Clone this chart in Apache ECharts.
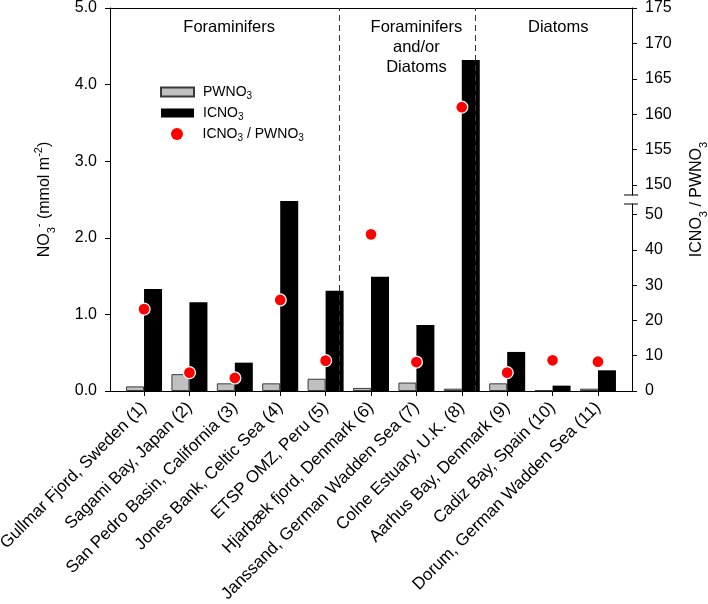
<!DOCTYPE html>
<html><head><meta charset="utf-8">
<script src="https://cdn.jsdelivr.net/npm/echarts@6/dist/echarts.min.js"></script>
<style>html,body{margin:0;padding:0;background:#fff}#c{width:708px;height:604px}</style>
</head><body><div id="c"></div>
<script>
// ---- data ----
const sites = ['Gullmar Fjord, Sweden (1)', 'Sagami Bay, Japan (2)', 'San Pedro Basin, California (3)',
  'Jones Bank, Celtic Sea (4)', 'ETSP OMZ, Peru (5)', 'Hjarbæk fjord, Denmark (6)',
  'Janssand, German Wadden Sea (7)', 'Colne Estuary, U.K. (8)', 'Aarhus Bay, Denmark (9)',
  'Cadiz Bay, Spain (10)', 'Dorum, German Wadden Sea (11)'];
const pwno3 = [0.06, 0.22, 0.10, 0.10, 0.16, 0.04, 0.11, 0.03, 0.10, 0.01, 0.03];
const icno3 = [1.33, 1.16, 0.37, 2.48, 1.31, 1.49, 0.86, 4.32, 0.51, 0.07, 0.27];
const ratio = [23.2, 5.2, 3.7, 25.8, 8.6, 44.4, 8.2, 161.0, 5.2, 8.7, 8.3];
const leftTicks = [0, 1, 2, 3, 4, 5];
const lowerTicks = [0, 10, 20, 30, 40, 50];
const upperTicks = [150, 155, 160, 165, 170, 175];
const groupNames = ['Foraminifers', 'Foraminifers\nand/or\nDiatoms', 'Diatoms'];
const groupBounds = [[0.25, 5.5], [5.5, 8.5], [8.5, 11.75]];
const dividers = [5.5, 8.5];

// ---- chart ----
const FONT = 'Liberation Sans, Arial, sans-serif';
const X_MIN = 0.25, X_MAX = 11.75;
const LOW_MAX = 53, UP_MIN = 148.6, UP_MAX = 175;
const G_LEFT = 110, G_RIGHT = 76, G_TOP = 8, G_H = 383, LOW_TOP = 204, UP_H = 187;
const catIdx = sites.map((s, i) => i + 1);
const chart = echarts.init(document.getElementById('c'), null, {renderer: 'canvas'});

const axisLine = {show: true, lineStyle: {color: '#000', width: 1}};
const axisTick = {show: true, inside: false, length: 5, lineStyle: {color: '#000', width: 1}};
const nameRich = {
  sub: {fontSize: 11, lineHeight: 24, verticalAlign: 'bottom', fontFamily: FONT, color: '#000'},
  sup: {fontSize: 11, lineHeight: 24, verticalAlign: 'top', fontFamily: FONT, color: '#000'}
};
const legRich = {s: {fontSize: 10, lineHeight: 18, verticalAlign: 'bottom', fontFamily: FONT, color: '#000'}};
const legNames = {PWNO3: 'PWNO{s|3}', ICNO3: 'ICNO{s|3}', ratio: 'ICNO{s|3} / PWNO{s|3}'};

const gridPos = {left: G_LEFT, right: G_RIGHT, containLabel: false, outerBoundsMode: 'none'};
const option = {
  animation: false,
  backgroundColor: '#fff',
  textStyle: {fontFamily: FONT},
  grid: [
    Object.assign({top: G_TOP, height: G_H}, gridPos),
    Object.assign({top: LOW_TOP, height: G_TOP + G_H - LOW_TOP}, gridPos),
    Object.assign({top: G_TOP, height: UP_H}, gridPos)
  ],
  legend: [
    {data: [{name: 'PWNO3', icon: 'rect'}, {name: 'ICNO3', icon: 'rect'}], orient: 'vertical', left: 160, top: 83,
     padding: 0, itemWidth: 33, itemHeight: 9, itemGap: 3, selectedMode: false,
     formatter: n => legNames[n],
     textStyle: {fontSize: 14, color: '#000', lineHeight: 18, fontFamily: FONT, padding: [0, 0, 0, 4], rich: legRich}},
    {data: [{name: 'ratio', icon: 'circle', itemStyle: {borderWidth: 0}}], orient: 'vertical', left: 171, top: 125,
     padding: 0, itemWidth: 33, itemHeight: 12, selectedMode: false,
     formatter: n => legNames[n],
     textStyle: {fontSize: 14, color: '#000', lineHeight: 18, fontFamily: FONT, padding: [0, 0, 0, 4], rich: legRich}}
  ],
  xAxis: [
    {type: 'value', gridIndex: 0, min: X_MIN, max: X_MAX, splitLine: {show: false},
     axisLine: axisLine, axisTick: Object.assign({customValues: catIdx}, axisTick),
     axisLabel: {customValues: catIdx, rotate: 45, margin: 14, fontSize: 17, color: '#000', fontFamily: FONT,
       formatter: v => sites[Math.round(v) - 1] || ''}},
    {type: 'value', gridIndex: 1, min: X_MIN, max: X_MAX, show: false},
    {type: 'value', gridIndex: 2, min: X_MIN, max: X_MAX, position: 'top', splitLine: {show: false},
     axisLine: axisLine, axisTick: {show: false}, axisLabel: {show: false}}
  ],
  yAxis: [
    {type: 'value', gridIndex: 0, position: 'left', min: 0, max: 5, interval: 1, splitLine: {show: false},
     axisLine: axisLine, axisTick: Object.assign({customValues: leftTicks}, axisTick),
     axisLabel: {customValues: leftTicks, margin: 13, fontSize: 16, color: '#000', fontFamily: FONT,
       formatter: v => v.toFixed(1)},
     name: 'NO{sub|3}{sup|-} (mmol m{sup|-2})', nameLocation: 'middle', nameGap: 53, nameRotate: 90,
     nameTextStyle: {fontSize: 16, color: '#000', lineHeight: 24, fontFamily: FONT, rich: nameRich}},
    {type: 'value', gridIndex: 1, position: 'right', min: 0, max: LOW_MAX, splitLine: {show: false},
     axisLine: axisLine, axisTick: Object.assign({customValues: lowerTicks}, axisTick),
     axisLabel: {customValues: lowerTicks, margin: 13, fontSize: 16, color: '#000', fontFamily: FONT}},
    {type: 'value', gridIndex: 2, position: 'right', min: UP_MIN, max: UP_MAX, splitLine: {show: false},
     axisLine: axisLine, axisTick: Object.assign({customValues: upperTicks}, axisTick),
     axisLabel: {customValues: upperTicks, margin: 13, fontSize: 16, color: '#000', fontFamily: FONT}},
    {type: 'value', gridIndex: 0, position: 'right', min: 0, max: 1, splitLine: {show: false},
     axisLine: {show: false}, axisTick: {show: false}, axisLabel: {show: false},
     name: 'ICNO{sub|3} / PWNO{sub|3}', nameLocation: 'middle', nameGap: 53, nameRotate: 90,
     nameTextStyle: {fontSize: 16, color: '#000', lineHeight: 24, fontFamily: FONT, rich: nameRich}}
  ],
  series: [
    {name: 'PWNO3', type: 'bar', xAxisIndex: 0, yAxisIndex: 0, barWidth: 18, barGap: '0%',
     itemStyle: {color: '#c0c0c0', borderColor: '#3a3a3a', borderWidth: 1},
     data: pwno3.map((v, i) => [i + 1, v]),
     markLine: {silent: true, symbol: ['none', 'none'], label: {show: false},
       lineStyle: {color: '#333', width: 1, type: [6, 4]},
       data: dividers.map(d => ({xAxis: d}))}},
    {name: 'ICNO3', type: 'bar', xAxisIndex: 0, yAxisIndex: 0, barWidth: 18, barGap: '0%',
     itemStyle: {color: '#000'},
     data: icno3.map((v, i) => [i + 1, v])},
    {name: 'ratio', type: 'scatter', xAxisIndex: 1, yAxisIndex: 1, symbolSize: 12, z: 5,
     itemStyle: {color: '#ff0000', borderColor: '#fff', borderWidth: 1.3, opacity: 1},
     data: ratio.map((v, i) => [i + 1, v]).filter(d => d[1] <= LOW_MAX)},
    {name: 'ratio', type: 'scatter', xAxisIndex: 2, yAxisIndex: 2, symbolSize: 12, z: 5,
     itemStyle: {color: '#ff0000', borderColor: '#fff', borderWidth: 1.3, opacity: 1},
     data: ratio.map((v, i) => [i + 1, v]).filter(d => d[1] >= UP_MIN)}
  ]
};
chart.setOption(option);

// decorations: group labels and axis-break marks
const ax = chart.getWidth() - G_RIGHT;
const yUp = G_TOP + UP_H;
const yLow = LOW_TOP;
const xScale = (chart.getWidth() - G_LEFT - G_RIGHT) / (X_MAX - X_MIN);
const graphics = [];
groupNames.forEach((g, i) => {
  const cx = G_LEFT + ((groupBounds[i][0] + groupBounds[i][1]) / 2 - X_MIN) * xScale;
  graphics.push({type: 'text', x: cx, y: 17, silent: true, z: 10,
    style: {text: g, fontSize: 16.5, fontFamily: FONT, fill: '#000', align: 'center', verticalAlign: 'top', lineHeight: 20}});
});
[yUp, yLow].forEach(y => {
  graphics.push({type: 'line', silent: true, z: 10, shape: {x1: ax - 8, y1: y, x2: ax + 6, y2: y},
    style: {stroke: '#000', lineWidth: 1}});
});
chart.setOption({graphic: graphics});
</script>
</body></html>
